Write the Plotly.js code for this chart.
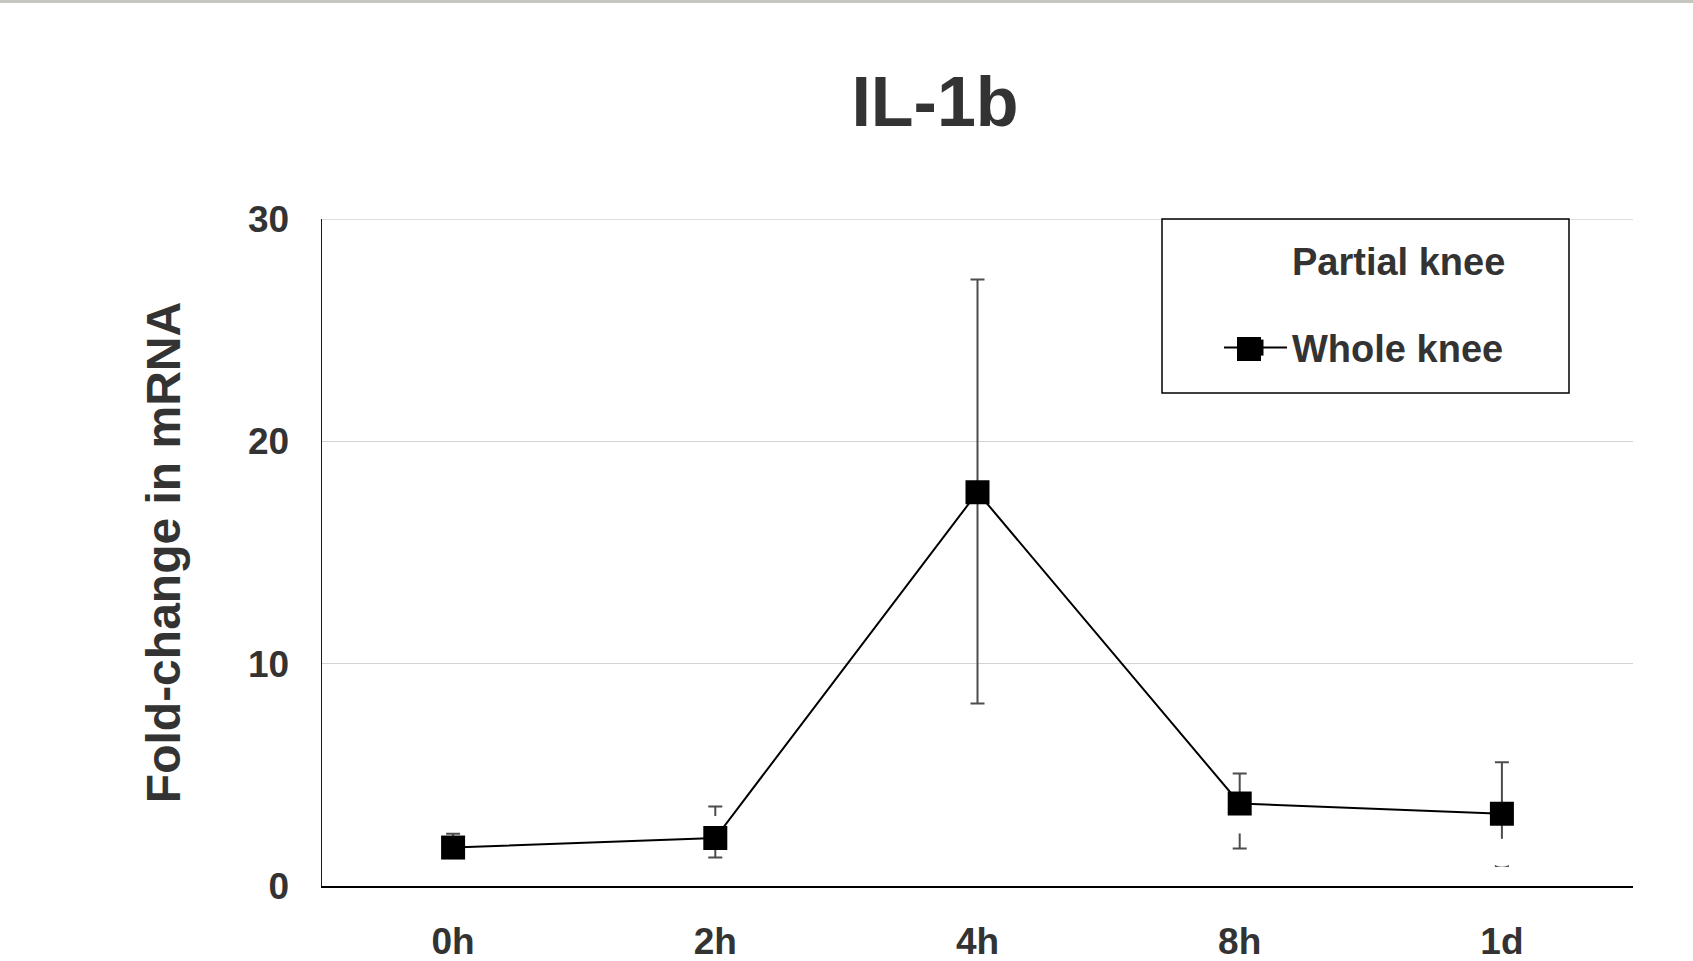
<!DOCTYPE html>
<html>
<head>
<meta charset="utf-8">
<script src="https://cdn.plot.ly/plotly-3.0.1.min.js"></script>
<style>
  html, body { margin: 0; padding: 0; background: #ffffff; }
  #chart { width: 1693px; height: 961px; }
</style>
</head>
<body>
<div id="chart"></div>
<script>
// Time points after treatment
const timepoints = ['0h', '2h', '4h', '8h', '1d'];

// Whole knee: mean fold-change and error bar extents
const wholeKnee = [1.73, 2.16, 17.71, 3.71, 3.25];
const wholeErrPlus = [0.62, 1.42, 9.57, 1.35, 2.32];
const wholeErrMinus = [0.62, 0.88, 9.50, 2.02, 2.35];

// Partial knee: drawn as white circles (4h not discernible)
const partialKnee = [1.0, 2.52, null, 2.99, 1.49];

const yTicks = [0, 10, 20, 30];

const FONT = '"Liberation Sans", Arial, Helvetica, sans-serif';
const TEXT = '#333333';

const W = 1693, H = 961;
const M = { l: 322, r: 60, t: 219, b: 75 };
const plotW = W - M.l - M.r, plotH = H - M.t - M.b;
const px2x = p => (p - M.l) / plotW;
const py2y = p => (H - M.b - p) / plotH;

// legend glyph geometry (pixels)
const LEG_ITEM_W = 63;
const LEG_LEFT = 1219;
const glyphCx = 1249, glyphCy = 349, glyphHalf = 12;

const traces = [
  {
    // error bars for the whole-knee series, kept beneath the other marks
    x: timepoints, y: wholeKnee, type: 'scatter', mode: 'markers',
    marker: { size: 24, symbol: 'square', color: 'rgba(0,0,0,0)' },
    error_y: {
      type: 'data', symmetric: false,
      array: wholeErrPlus, arrayminus: wholeErrMinus,
      color: '#4d4d4d', thickness: 2, width: 7
    },
    showlegend: false, hoverinfo: 'skip'
  },
  {
    x: timepoints, y: partialKnee, type: 'scatter', mode: 'markers',
    name: 'Partial knee', legendgroup: 'partial',
    marker: { size: 28, symbol: 'circle', color: '#ffffff', line: { width: 0 } },
    hoverinfo: 'skip'
  },
  {
    x: timepoints, y: wholeKnee, type: 'scatter', mode: 'lines+markers',
    name: 'Whole knee', legendgroup: 'whole',
    line: { color: '#000000', width: 2 },
    marker: { size: 24, symbol: 'square', color: '#000000', line: { width: 0 } },
    hoverinfo: 'skip'
  }
];

const layout = {
  width: W, height: H,
  margin: M,
  paper_bgcolor: '#ffffff', plot_bgcolor: '#ffffff',
  font: { family: FONT, color: TEXT },
  showlegend: true,
  title: {
    text: '<b>IL-1b</b>',
    font: { family: FONT, size: 70, color: TEXT },
    xref: 'container', yref: 'container',
    x: 935 / W, xanchor: 'center',
    y: 1 - 101 / H, yanchor: 'middle'
  },
  xaxis: {
    type: 'category',
    range: [-0.5, 4.5],
    showline: true, linecolor: '#000000', linewidth: 2,
    showgrid: false, zeroline: false,
    ticks: '',
    ticklabelstandoff: 22,
    tickfont: { family: FONT, size: 37, color: TEXT, weight: 'bold' },
    fixedrange: true
  },
  yaxis: {
    range: [0, 30],
    tickvals: yTicks,
    ticktext: yTicks.map(String),
    showline: true, linecolor: '#1a1a1a', linewidth: 1.5,
    showgrid: true, gridcolor: '#d3d3d3', gridwidth: 1.5,
    zeroline: false,
    ticks: '',
    ticklabelstandoff: 24,
    tickfont: { family: FONT, size: 37, color: TEXT, weight: 'bold' },
    title: {
      text: '<b>Fold-change in mRNA</b>',
      font: { family: FONT, size: 48, color: TEXT },
      standoff: 52
    },
    fixedrange: true
  },
  legend: {
    x: px2x(LEG_LEFT), xanchor: 'left',
    y: py2y(229), yanchor: 'top',
    bgcolor: 'rgba(0,0,0,0)', borderwidth: 0,
    itemwidth: LEG_ITEM_W,
    traceorder: 'grouped', tracegroupgap: 35,
    font: { family: FONT, size: 38, color: TEXT, weight: 'bold' }
  },
  shapes: [
    {
      // top gridline at 30
      type: 'line', xref: 'paper', yref: 'y', layer: 'below',
      x0: 0, x1: 1, y0: yTicks[yTicks.length - 1], y1: yTicks[yTicks.length - 1],
      line: { color: '#d3d3d3', width: 1.5 }
    },
    {
      // legend frame
      type: 'rect', xref: 'paper', yref: 'paper',
      x0: px2x(1162), x1: px2x(1569), y0: py2y(393), y1: py2y(219),
      line: { color: '#000000', width: 1.5 }, fillcolor: 'rgba(0,0,0,0)'
    },
    {
      // full-size square on the whole-knee legend glyph
      type: 'rect', xref: 'paper', yref: 'paper',
      x0: px2x(glyphCx - glyphHalf), x1: px2x(glyphCx + glyphHalf),
      y0: py2y(glyphCy + glyphHalf), y1: py2y(glyphCy - glyphHalf),
      line: { width: 0 }, fillcolor: '#000000'
    },
    {
      // thin rule along the top edge
      type: 'rect', xref: 'paper', yref: 'paper',
      x0: px2x(0), x1: px2x(W), y0: py2y(3), y1: py2y(0),
      line: { width: 0 }, fillcolor: '#c6c6c0'
    }
  ]
};

Plotly.newPlot('chart', traces, layout, { displayModeBar: false, staticPlot: true });
</script>
</body>
</html>
